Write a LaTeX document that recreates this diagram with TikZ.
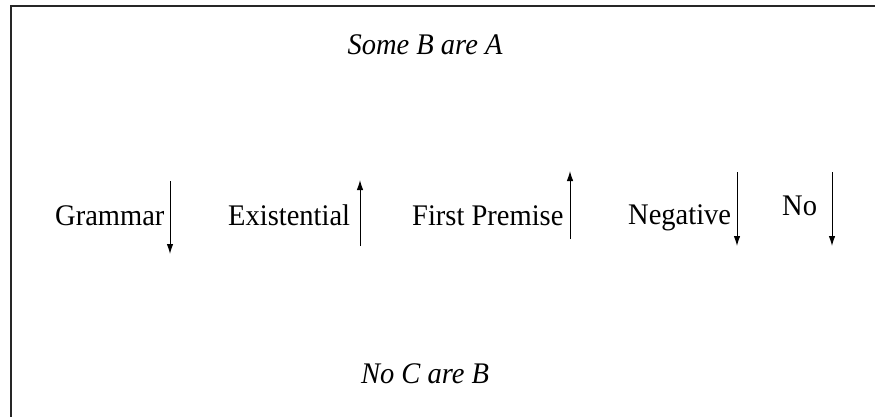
\documentclass[tikz,border=0pt]{standalone}
\usepackage{fontspec}
\setmainfont{Liberation Serif}
\usetikzlibrary{arrows.meta}
% slightly tall lettering
\newcommand{\tallr}[1]{\scalebox{1}[1.05]{#1}}
\begin{document}
\begin{tikzpicture}[x=1pt,y=-1pt,
  lbl/.style={anchor=base west,inner sep=0pt,font=\fontsize{28.5}{34}\selectfont},
  prem/.style={anchor=base,inner sep=0pt,font=\fontsize{28.5}{34}\selectfont\itshape},
  flow/.style={line width=1pt,-{Latex[length=10pt,width=6.5pt]}}]
\useasboundingbox (0,0) rectangle (875,417);
\clip (0,0) rectangle (875,417);
% outer frame, running past the right and bottom edges
\draw[line width=1.5pt,black!85] (11,6) rectangle (890,430);

% premises
\node[prem] (top) at (425,55) {\tallr{Some B are A}};
\node[prem] (bot) at (425,383) {\tallr{No C are B}};

% labelled indicators
\node[lbl] (gram) at (55,225) {\tallr{Grammar}};
\node[lbl] (exis) at (228,225) {\tallr{Existential}};
\node[lbl] (first) at (412,225) {\tallr{First Premise}};
\node[lbl] (neg) at (628,224) {\tallr{Negative}};
\node[lbl] (no) at (782,215) {\tallr{No}};

\coordinate (g1) at (170,181); \coordinate (g2) at (170,254);
\coordinate (e1) at (360,246); \coordinate (e2) at (360,180);
\coordinate (f1) at (570,239); \coordinate (f2) at (570,171);
\coordinate (n1) at (737,172); \coordinate (n2) at (737,246);
\coordinate (o1) at (832,172); \coordinate (o2) at (832,246);

\draw[flow] (g1) -- (g2);
\draw[flow] (e1) -- (e2);
\draw[flow] (f1) -- (f2);
\draw[flow] (n1) -- (n2);
\draw[flow] (o1) -- (o2);
\end{tikzpicture}
\end{document}
